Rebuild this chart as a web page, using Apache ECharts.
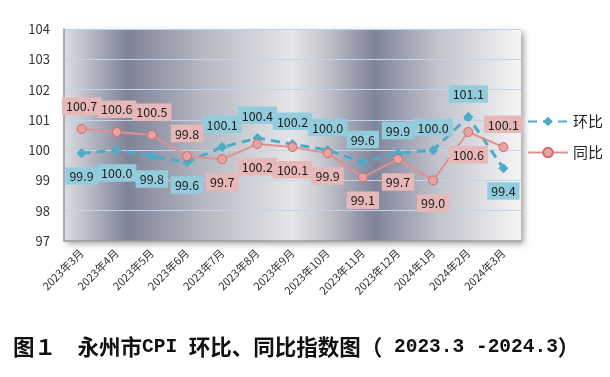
<!DOCTYPE html>
<html>
<head>
<meta charset="utf-8">
<script src="https://cdn.jsdelivr.net/npm/echarts@6/dist/echarts.min.js"></script>
<style>
  html, body { margin: 0; padding: 0; background: #fff; }
  #main { width: 610px; height: 377px; }
</style>
</head>
<body>
<div id="main"></div>
<script>
const months = ["2023年3月", "2023年4月", "2023年5月", "2023年6月", "2023年7月", "2023年8月", "2023年9月",
  "2023年10月", "2023年11月", "2023年12月", "2024年1月", "2024年2月", "2024年3月"];
const huanbi = [99.9, 100.0, 99.8, 99.6, 100.1, 100.4, 100.2, 100.0, 99.6, 99.9, 100.0, 101.1, 99.4];
const tongbi = [100.7, 100.6, 100.5, 99.8, 99.7, 100.2, 100.1, 99.9, 99.1, 99.7, 99.0, 100.6, 100.1];
// which side each value label sits on
const huanbiSide = ["bottom", "bottom", "bottom", "bottom", "top", "top", "top", "top", "top", "top", "top", "top", "bottom"];
const tongbiSide = ["top", "top", "top", "top", "bottom", "bottom", "bottom", "bottom", "bottom", "bottom", "bottom", "bottom", "top"];

const cjk = '"Noto Sans CJK SC", "Noto Sans", sans-serif';
const mono = '"Liberation Mono", "DejaVu Sans Mono", monospace';

const withSide = (vals, sides) => vals.map((v, i) => ({ value: v, label: { position: sides[i] } }));

const chart = echarts.init(document.getElementById("main"));

chart.setOption({
  animation: false,
  textStyle: { fontFamily: cjk },
  grid: {
    left: 64, right: 89, top: 29, bottom: 136,
    show: true,
    borderWidth: 0,
    backgroundColor: new echarts.graphic.LinearGradient(0, 0, 1, 0, [
      { offset: 0, color: "#dcdde2" },
      { offset: 0.14, color: "#7f8397" },
      { offset: 0.3, color: "#b4b7c2" },
      { offset: 0.5, color: "#e6e6e8" },
      { offset: 0.56, color: "#c9cad1" },
      { offset: 0.68, color: "#80849a" },
      { offset: 0.82, color: "#c2c4cc" },
      { offset: 1, color: "#f6f6f6" }
    ]),
    shadowColor: "rgba(0,0,0,0.35)",
    shadowBlur: 6,
    shadowOffsetX: 3,
    shadowOffsetY: 3
  },
  legend: {
    orient: "vertical",
    left: 522,
    top: 109,
    itemWidth: 40,
    itemHeight: 12,
    itemGap: 16,
    textStyle: { fontSize: 15, color: "#222", fontFamily: cjk },
    data: ["环比", "同比"]
  },
  title: {
    text: "{c|图１　永州市}{l|CPI }{c|环比、同比指数图（}{l| 2023.3 -2024.3}{c|）}",
    left: 8,
    top: 331,
    textStyle: {
      rich: {
        c: { fontSize: 21.5, fontWeight: "bold", color: "#111", fontFamily: cjk },
        l: { fontSize: 19.5, fontWeight: "bold", color: "#111", fontFamily: mono }
      }
    }
  },
  xAxis: {
    type: "category",
    data: months,
    boundaryGap: true,
    axisLine: { lineStyle: { color: "#9a9a9a", width: 1.5 } },
    axisTick: { show: false },
    axisLabel: { rotate: 45, interval: 0, fontSize: 11, color: "#333", margin: 10 }
  },
  yAxis: {
    type: "value",
    min: 97,
    max: 104,
    interval: 1,
    axisLine: { show: true, lineStyle: { color: "#9a9a9a", width: 1.5 } },
    axisTick: { show: false },
    axisLabel: { fontSize: 13, color: "#333", margin: 14 },
    splitLine: { lineStyle: { color: "#c3d3ea", width: 1 } }
  },
  series: [
    {
      name: "环比",
      type: "line",
      data: withSide(huanbi, huanbiSide),
      symbol: "diamond",
      symbolSize: 9,
      z: 3,
      lineStyle: { color: "#4bacc6", width: 3, type: [9, 6] },
      itemStyle: { color: "#4bacc6", borderColor: "#4bacc6" },
      label: {
        show: true,
        distance: 9,
        formatter: p => p.value.toFixed(1),
        fontSize: 12.5,
        color: "#1c1c1c",
        backgroundColor: "#93cddd",
        padding: [3, 4, 2, 4]
      }
    },
    {
      name: "同比",
      type: "line",
      data: withSide(tongbi, tongbiSide),
      symbol: "circle",
      symbolSize: 9,
      z: 4,
      lineStyle: { color: "#e0918f", width: 2 },
      itemStyle: { color: "#e6a3a1", borderColor: "#cf6b68", borderWidth: 1 },
      label: {
        show: true,
        distance: 9,
        formatter: p => p.value.toFixed(1),
        fontSize: 12.5,
        color: "#1c1c1c",
        backgroundColor: "#e6b9b8",
        padding: [3, 4, 2, 4]
      }
    }
  ]
});
</script>
</body>
</html>
